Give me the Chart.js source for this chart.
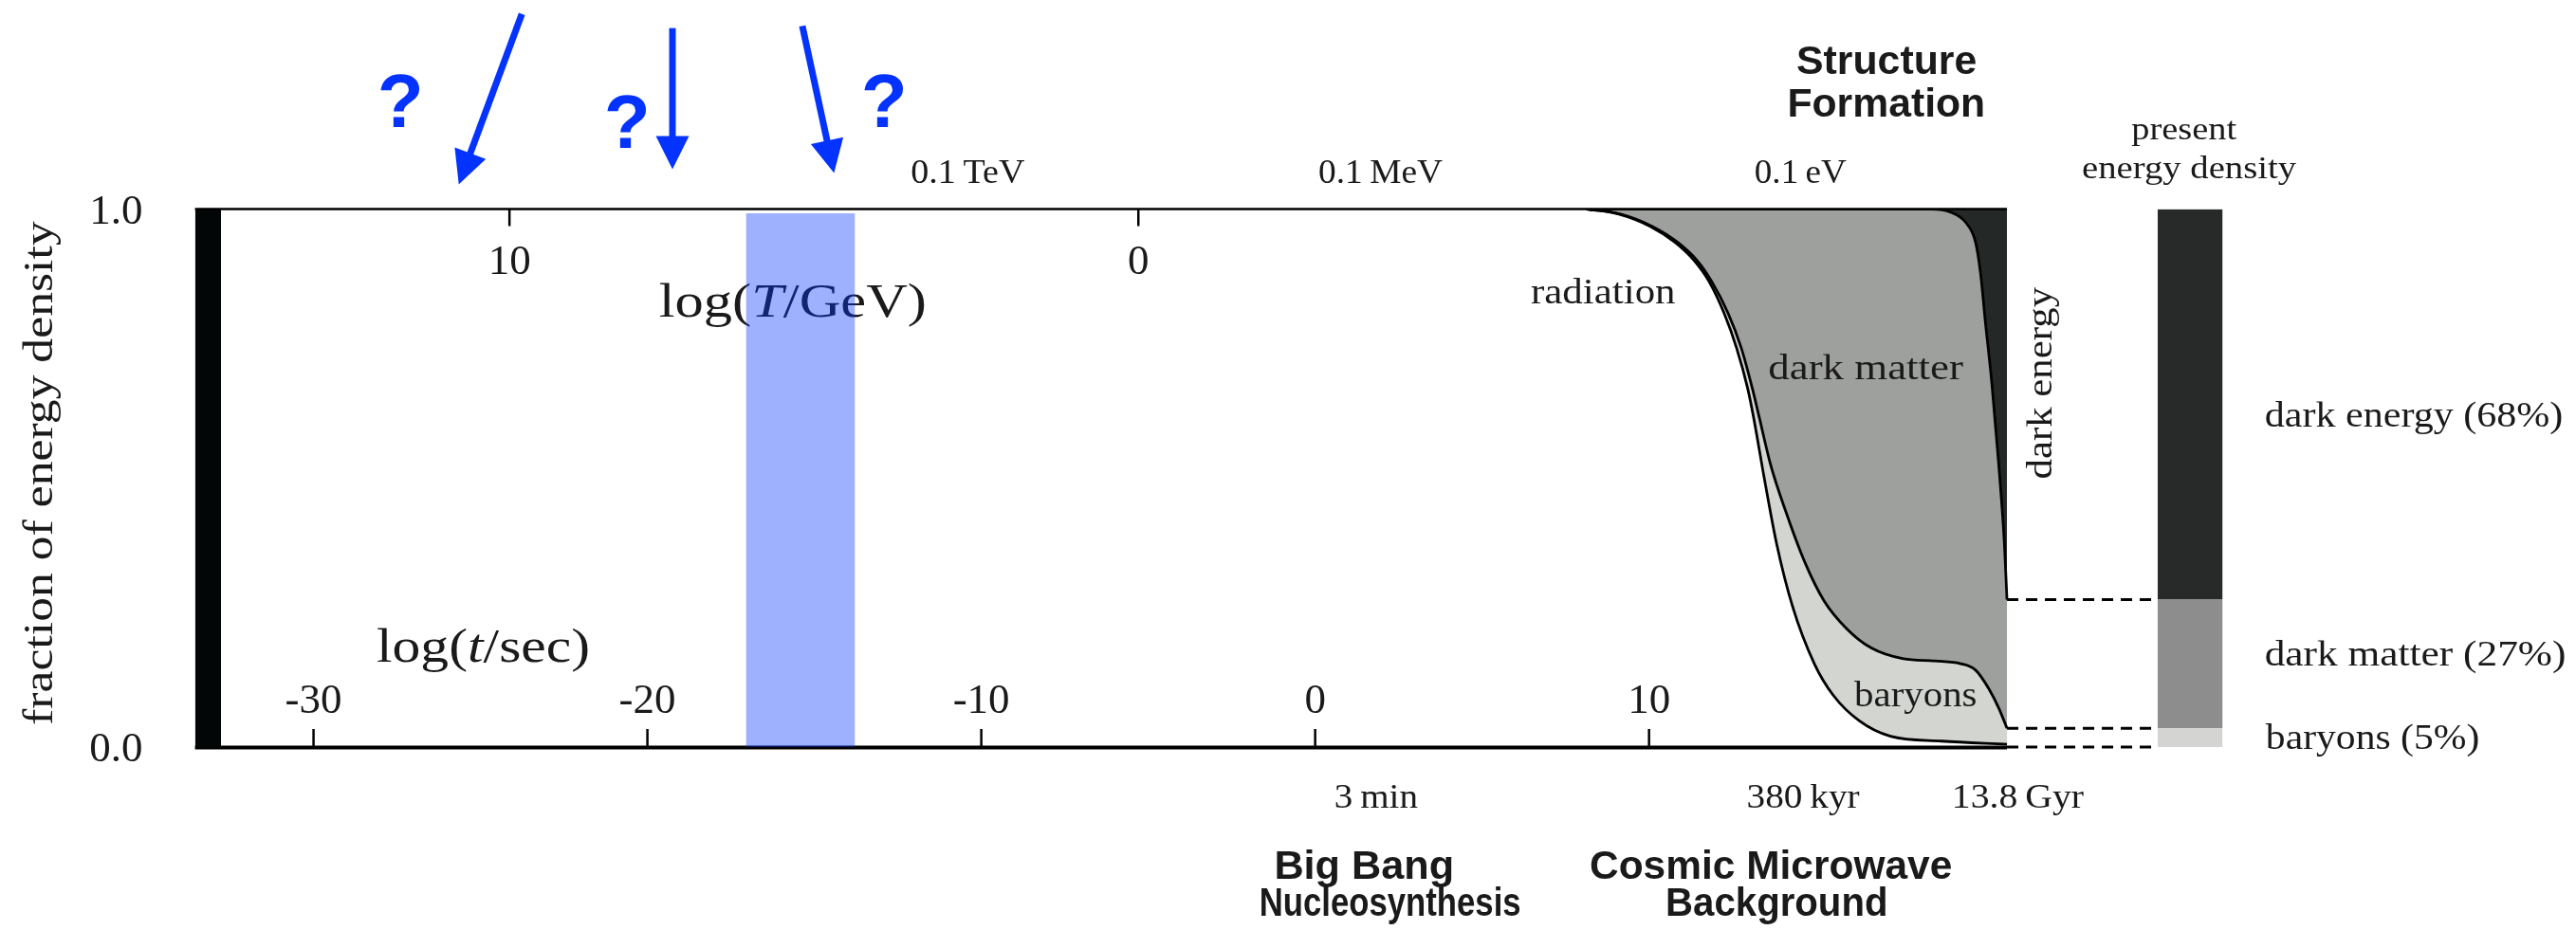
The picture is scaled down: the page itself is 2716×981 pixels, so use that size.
<!DOCTYPE html>
<html><head><meta charset="utf-8">
<script src="https://cdn.jsdelivr.net/npm/chart.js@4/dist/chart.umd.min.js"></script>
<style>html,body{margin:0;padding:0;background:#fff;overflow:hidden}#wrap{width:2716px;height:981px}</style>
</head><body><div id="wrap"><canvas id="c" width="2716" height="981"></canvas></div>
<script>
// ---------- data (x in log(t/sec), y = cumulative fraction of energy density) ----------
const radiationLogT = [8.13, 9.07, 10.03, 10.78, 11.34, 11.80, 12.25, 12.62, 12.96, 13.13, 13.45, 13.82, 14.30, 14.95, 15.52, 16.29, 17.23, 18.76, 20.72];
const radiationFrac = [1.000, 0.991, 0.968, 0.938, 0.905, 0.865, 0.806, 0.742, 0.665, 0.613, 0.500, 0.378, 0.261, 0.155, 0.096, 0.049, 0.020, 0.011, 0.005];
const baryonLogT = [8.13, 9.12, 10.09, 10.86, 11.43, 11.88, 12.37, 12.76, 13.10, 13.30, 13.64, 14.10, 14.67, 15.24, 15.92, 16.66, 17.62, 18.56, 19.33, 19.78, 20.18, 20.47, 20.72];
const baryonFrac = [1.000, 0.991, 0.968, 0.938, 0.905, 0.865, 0.806, 0.742, 0.665, 0.613, 0.525, 0.437, 0.343, 0.272, 0.220, 0.184, 0.164, 0.160, 0.155, 0.143, 0.108, 0.073, 0.035];
const matterLogT = [8.13, 18.47, 19.04, 19.50, 19.78, 19.93, 20.07, 20.27, 20.47, 20.64, 20.72];
const matterFrac = [1.000, 1.000, 0.994, 0.974, 0.938, 0.880, 0.792, 0.674, 0.528, 0.381, 0.274];
const darkEnergyLogT = [8.13, 20.72];
const darkEnergyFrac = [1.0, 1.0];

const presentNames = ['baryons', 'dark matter', 'dark energy'];
const presentFrac = [0.035, 0.239, 0.726];
const presentLabels = ['baryons (5%)', 'dark matter (27%)', 'dark energy (68%)'];
const presentBarLogT = [25.23, 27.18];

const bigBangLogT = [-33.55, -32.77];
const bandLogT = [-17.05, -13.78];

const timeTicks = [-30, -20, -10, 0, 10];
const timeTickLabels = ['-30', '-20', '-10', '0', '10'];
const tempTicks = [10, 0];
const tempTickLabels = ['10', '0'];
const fracTicks = [1, 0];
const fracTickLabels = ['1.0', '0.0'];

const energyLabels = ['0.1\u2009TeV', '0.1\u2009MeV', '0.1\u2009eV'];
const energyLabelLogT = [-10.39, 1.97, 14.55];
const timeLabels = ['3\u2009min', '380\u2009kyr', '13.8\u2009Gyr'];
const timeLabelLogT = [1.84, 14.63, 21.09];

// ---------- styles ----------
const SERIF = '"Liberation Serif", "DejaVu Serif", serif';
const SANS = '"Liberation Sans", Arial, sans-serif';
const INK = '#1a1a1a';
const BLUE = '#0433ff';
const C_BARYON = '#d3d5d1', C_DM = '#9da09c', C_DE = '#242827';
const P_COLORS = ['#d4d5d3', '#8c8d8c', '#282929'];

const pts = (xs, ys) => xs.map((x, i) => ({x: x, y: ys[i]}));
const TRANSP = 'rgba(0,0,0,0)';

const cum = [];
presentFrac.reduce((a, v) => { cum.push(a + v); return a + v; }, 0);
const lows = [0, cum[0], cum[1]];

const datasets = [];
// 0: blue band (drawn last, on top)
datasets.push({type: 'line', data: [{x: bandLogT[0], y: 0.992}, {x: bandLogT[1], y: 0.992}], fill: {value: -0.004},
  backgroundColor: 'rgba(0,51,255,0.385)', borderColor: TRANSP, borderWidth: 0, pointRadius: 0, clip: false});
// 1: radiation boundary
datasets.push({type: 'line', data: pts(radiationLogT, radiationFrac), fill: false, borderColor: '#000', borderWidth: 2.8,
  pointRadius: 0, cubicInterpolationMode: 'monotone'});
// 2: baryons (between radiation and baryon boundary)
datasets.push({type: 'line', data: pts(baryonLogT, baryonFrac), fill: 1, backgroundColor: C_BARYON, borderColor: '#000', borderWidth: 2.8,
  pointRadius: 0, cubicInterpolationMode: 'monotone'});
// 3: dark matter
datasets.push({type: 'line', data: pts(matterLogT, matterFrac), fill: 2, backgroundColor: C_DM, borderColor: '#000', borderWidth: 2.8,
  pointRadius: 0, cubicInterpolationMode: 'monotone'});
// 4: dark energy
datasets.push({type: 'line', data: pts(darkEnergyLogT, darkEnergyFrac), fill: 3, backgroundColor: C_DE, borderColor: TRANSP, borderWidth: 0,
  pointRadius: 0});
// 5-7: present energy density bar
presentFrac.forEach((v, i) => {
  datasets.push({type: 'line', label: presentNames[i], data: [{x: presentBarLogT[0], y: cum[i]}, {x: presentBarLogT[1], y: cum[i]}],
    fill: {value: lows[i]}, backgroundColor: P_COLORS[i], borderColor: TRANSP, borderWidth: 0, pointRadius: 0});
});
// 8: black bar at t -> 0
datasets.push({type: 'line', data: [{x: bigBangLogT[0], y: 1}, {x: bigBangLogT[1], y: 1}], fill: {value: 0},
  backgroundColor: '#030606', borderColor: TRANSP, borderWidth: 0, pointRadius: 0});
// 9-11: dashed connectors
[0, cum[0], cum[1]].forEach(l => {
  datasets.push({type: 'line', data: [{x: 20.72, y: l}, {x: presentBarLogT[0], y: l}], fill: false, borderColor: '#000',
    borderWidth: 3, borderDash: [12, 8], pointRadius: 0, clip: false});
});

// ---------- text helper ----------
function fstr(it, weight, size, fam) { return (it ? 'italic ' : 'normal ') + weight + ' ' + size + 'px ' + fam; }
function drawRuns(ctx, runs, x, y, o) {
  const fam = o.family || SERIF, size = o.size, weight = o.weight || 'normal';
  ctx.save();
  ctx.textAlign = 'left'; ctx.textBaseline = 'alphabetic';
  const widths = []; let total = 0;
  runs.forEach(r => { ctx.font = fstr(r[1], weight, size, fam); const w = ctx.measureText(r[0]).width; widths.push(w); total += w; });
  ctx.font = fstr(runs[0][1], weight, size, fam);
  const m0 = ctx.measureText(runs[0][0]);
  const lr = runs[runs.length - 1];
  ctx.font = fstr(lr[1], weight, size, fam);
  const mL = ctx.measureText(lr[0]);
  const inkL = -m0.actualBoundingBoxLeft;
  const inkR = total - widths[widths.length - 1] + mL.actualBoundingBoxRight;
  const inkW = inkR - inkL;
  const sx = o.width ? o.width / inkW : 1;
  let ox;
  if (o.align === 'center') ox = -(inkL + inkW / 2) * sx;
  else if (o.align === 'right') ox = -inkR * sx;
  else ox = -inkL * sx;
  ctx.translate(x, y);
  if (o.rotate) ctx.rotate(o.rotate);
  ctx.translate(ox, 0);
  ctx.scale(sx, 1);
  ctx.fillStyle = o.color || INK;
  let cx = 0;
  runs.forEach((r, i) => { ctx.font = fstr(r[1], weight, size, fam); ctx.fillText(r[0], cx, 0); cx += widths[i]; });
  ctx.restore();
}
function arrow(ctx, x1, y1, x2, y2) {
  const dx = x2 - x1, dy = y2 - y1, L = Math.hypot(dx, dy), ux = dx / L, uy = dy / L;
  const hl = 35, hw = 17.5;
  const bx = x2 - ux * hl, by = y2 - uy * hl;
  ctx.save();
  ctx.strokeStyle = BLUE; ctx.lineWidth = 7; ctx.lineCap = 'butt';
  ctx.beginPath(); ctx.moveTo(x1, y1); ctx.lineTo(bx + ux * 3, by + uy * 3); ctx.stroke();
  ctx.fillStyle = BLUE;
  ctx.beginPath(); ctx.moveTo(x2, y2); ctx.lineTo(bx - uy * hw, by + ux * hw); ctx.lineTo(bx + uy * hw, by - ux * hw); ctx.closePath(); ctx.fill();
  ctx.restore();
}

// annotations in data coordinates (x: log t, y: fraction)
const notesAfter = [
  {r: [['fraction of energy density']], x: -37.83, y: 0.5106, size: 45, width: 531, align: 'center', rotate: -Math.PI / 2},
  {r: [['log('], ['t', 1], ['/sec)']], x: -28.08, y: 0.1585, size: 50, width: 222, align: 'left'},
  {r: [['radiation']], x: 8.617, y: 0.8239, size: 37, width: 152, align: 'center'},
  {r: [['dark matter']], x: 16.50, y: 0.6831, size: 37, width: 204, align: 'center'},
  {r: [['baryons']], x: 17.98, y: 0.0757, size: 37, width: 129, align: 'center'},
  {r: [['dark energy']], x: 22.05, y: 0.6778, size: 37, width: 202, align: 'center', rotate: -Math.PI / 2},
  {r: [['present']], x: 26.03, y: 1.1303, size: 34, width: 111.5, align: 'center'},
  {r: [['energy density']], x: 26.19, y: 1.0581, size: 34, width: 225, align: 'center'},
  {r: [[presentLabels[2]]], x: 28.47, y: 0.5951, size: 37, width: 312, align: 'left'},
  {r: [[presentLabels[1]]], x: 28.47, y: 0.1523, size: 37, width: 315, align: 'left'},
  {r: [[presentLabels[0]]], x: 28.47, y: -0.0028, size: 37, width: 224, align: 'left'},
  {r: [['Structure']], x: 17.11, y: 1.2518, size: 42, width: 188, align: 'center', family: SANS, weight: 'bold'},
  {r: [['Formation']], x: 17.11, y: 1.1725, size: 42, width: 205, align: 'center', family: SANS, weight: 'bold'},
  {r: [['Big Bang']], x: 1.457, y: -0.2442, size: 42, width: 185, align: 'center', family: SANS, weight: 'bold'},
  {r: [['Nucleosynthesis']], x: 2.253, y: -0.3134, size: 42, width: 273, align: 'center', family: SANS, weight: 'bold'},
  {r: [['Cosmic Microwave']], x: 13.645, y: -0.2442, size: 42, width: 380, align: 'center', family: SANS, weight: 'bold'},
  {r: [['Background']], x: 13.815, y: -0.3134, size: 42, width: 230, align: 'center', family: SANS, weight: 'bold'},
  {r: [['?']], x: -27.41, y: 1.1532, size: 80, align: 'center', family: SANS, weight: 'bold', color: BLUE},
  {r: [['?']], x: -20.62, y: 1.1144, size: 80, align: 'center', family: SANS, weight: 'bold', color: BLUE},
  {r: [['?']], x: -12.92, y: 1.1532, size: 80, align: 'center', family: SANS, weight: 'bold', color: BLUE}
];
const energyW = [119, 130, 96], timeW = [87, 118, 136];
const arrows = [
  [-23.76, 1.3627, -25.65, 1.0458],
  [-19.25, 1.3363, -19.25, 1.0741],
  [-15.36, 1.3403, -14.41, 1.0669]
];

const annotPlugin = {
  id: 'annot',
  beforeDatasetsDraw(chart) {
    const ctx = chart.ctx, xs = chart.scales.x, ys = chart.scales.y, xT = chart.scales.xT;
    const top = ys.getPixelForValue(1), bot = ys.getPixelForValue(0);
    const xEnd = xs.getPixelForValue(20.72);
    ctx.save();
    ctx.strokeStyle = '#000';
    ctx.lineWidth = 4;
    ctx.beginPath(); ctx.moveTo(xs.left, bot + 0.5); ctx.lineTo(xEnd, bot + 0.5); ctx.stroke();
    ctx.lineWidth = 2.5;
    timeTicks.forEach(v => { const p = xs.getPixelForValue(v); ctx.beginPath(); ctx.moveTo(p, bot - 19); ctx.lineTo(p, bot); ctx.stroke(); });
    tempTicks.forEach(v => { const p = xT.getPixelForValue(v); ctx.beginPath(); ctx.moveTo(p, top); ctx.lineTo(p, top + 18); ctx.stroke(); });
    ctx.restore();
    // log(T/GeV) sits under the blue band
    drawRuns(ctx, [['log('], ['T', 1], ['/GeV)']], xs.getPixelForValue(-19.62), ys.getPixelForValue(0.7993), {size: 50, width: 279, align: 'left'});
  },
  afterDatasetsDraw(chart) {
    const ctx = chart.ctx, xs = chart.scales.x, ys = chart.scales.y, xT = chart.scales.xT;
    const top = ys.getPixelForValue(1), bot = ys.getPixelForValue(0);
    const xEnd = xs.getPixelForValue(20.72);
    ctx.save();
    ctx.strokeStyle = '#000'; ctx.lineWidth = 2.5;
    ctx.beginPath(); ctx.moveTo(xs.left, top); ctx.lineTo(xEnd, top); ctx.stroke();
    ctx.restore();
    // tick labels
    ctx.save();
    ctx.fillStyle = INK; ctx.textBaseline = 'alphabetic';
    ctx.font = '45px ' + SERIF; ctx.textAlign = 'center';
    timeTicks.forEach((v, i) => ctx.fillText(timeTickLabels[i], xs.getPixelForValue(v), bot - 36));
    tempTicks.forEach((v, i) => ctx.fillText(tempTickLabels[i], xT.getPixelForValue(v), top + 68));
    ctx.textAlign = 'right';
    fracTicks.forEach((v, i) => ctx.fillText(fracTickLabels[i], xs.left - 55, ys.getPixelForValue(v) + 15));
    ctx.restore();
    energyLabels.forEach((t, i) => drawRuns(ctx, [[t]], xs.getPixelForValue(energyLabelLogT[i]), top - 27.5, {size: 36, width: energyW[i], align: 'center'}));
    timeLabels.forEach((t, i) => drawRuns(ctx, [[t]], xs.getPixelForValue(timeLabelLogT[i]), bot + 63.7, {size: 36, width: timeW[i], align: 'center'}));
    notesAfter.forEach(n => drawRuns(ctx, n.r, xs.getPixelForValue(n.x), ys.getPixelForValue(n.y), n));
    arrows.forEach(a => arrow(ctx, xs.getPixelForValue(a[0]), ys.getPixelForValue(a[1]), xs.getPixelForValue(a[2]), ys.getPixelForValue(a[3])));
  }
};

new Chart(document.getElementById('c'), {
  type: 'line',
  data: {datasets: datasets},
  options: {
    responsive: false, animation: false, devicePixelRatio: 1, events: [],
    layout: {padding: {left: 205.6, right: 356, top: 220.5, bottom: 193}},
    scales: {
      x: {type: 'linear', min: -33.55, max: 27.65, display: false},
      xT: {type: 'linear', axis: 'x', position: 'top', reverse: true, min: -17.49, max: 15, display: false},
      y: {type: 'linear', min: 0, max: 1, display: false}
    },
    plugins: {legend: {display: false}, tooltip: {enabled: false}, title: {display: false}}
  },
  plugins: [annotPlugin]
});
</script>
</body></html>
